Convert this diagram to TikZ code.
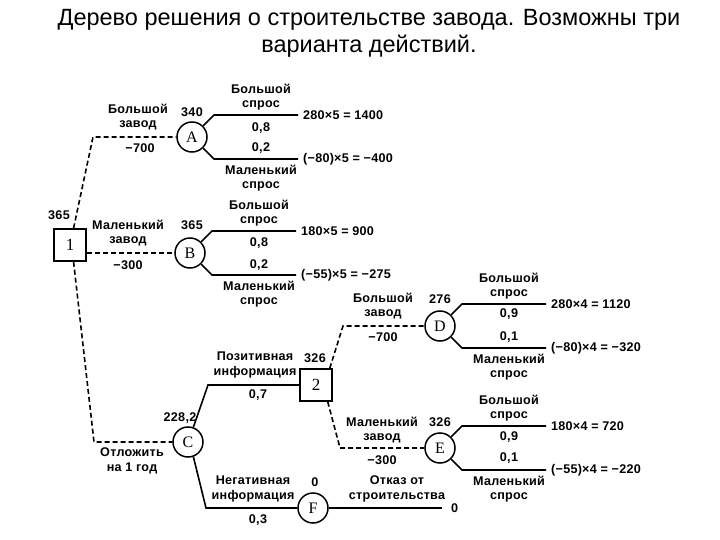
\documentclass[tikz,border=0pt]{standalone}
\usepackage{fontspec}
\setmainfont{Liberation Sans}
\newfontfamily\lblfam{Liberation Sans}[LetterSpace=2]
\newfontfamily\titlefam{Liberation Sans}
\newfontfamily\serfam{Liberation Serif}
\usetikzlibrary{calc}
\tikzset{
  chance/.style={circle, draw, line width=1.5pt, minimum size=30pt, inner sep=0pt, font=\serfam\fontsize{16}{16}\selectfont},
  decision/.style={rectangle, draw, line width=1.5pt, minimum size=32pt, inner sep=0pt, font=\serfam\fontsize{17}{17}\selectfont},
  lbl/.style={font=\lblfam\bfseries\fontsize{12.6}{14.5}\selectfont, align=center, inner sep=0pt},
  pay/.style={font=\lblfam\bfseries\fontsize{12.6}{14.5}\selectfont, anchor=west, inner sep=0pt},
  dashline/.style={line width=1.6pt, dash pattern=on 5pt off 3pt},
  solidline/.style={line width=1.6pt},
  titlef/.style={font=\titlefam\fontsize{23.5}{27}\selectfont, align=center, inner sep=0pt}
}
\begin{document}
\begin{tikzpicture}[x=1pt,y=-1pt]
\useasboundingbox (0,0) rectangle (720,540);
\fill[white] (0,0) rectangle (720,540);

% title
\node[titlef] (title) at (369,33) {Дерево решения о строительстве завода. Возможны три\\варианта действий.};

% nodes
\node[decision] (n1) at (70,245) {1};
\node[chance] (A) at (192,137) {A};
\node[chance] (B) at (190,253) {B};
\node[chance] (C) at (188,442) {C};
\node[decision] (n2) at (316,385) {2};
\node[chance] (D) at (440,326) {D};
\node[chance] (E) at (440,448) {E};
\node[chance] (F) at (313,508) {F};

% bends
\coordinate (k1a) at (93,137);
\coordinate (k1c) at (94,442);
\coordinate (kc2) at (208,385);
\coordinate (kcf) at (206,508);
\coordinate (k2d) at (343,326);
\coordinate (k2e) at (340,448);
\coordinate (fend) at (442,508);

% decision edges (dashed)
\draw[dashline] (n1.78) -- (k1a) -- (A.west);
\draw[dashline] (n1.east |- B.west) -- (B.west);
\draw[dashline] (n1.-78) -- (k1c) -- (C.west);
\draw[dashline] ($(n2.north east)+(-3,0)$) -- (k2d) -- (D.west);
\draw[dashline] ($(n2.south east)+(-5,0)$) -- (k2e) -- (E.west);

% chance edges (solid)
\draw[solidline] (C.70) -- (kc2) -- (n2.west);
\draw[solidline] (C.-70) -- (kcf) -- (F.west);
\draw[solidline] (F.east) -- (fend);
\node[pay] (f0) at (451,508) {0};

% outcome branches
\foreach \X in {A,B,D,E}{
  \draw[solidline] (\X.45) -- ($(\X)+(22,-22)$) -- ($(\X)+(106,-22)$);
  \draw[solidline] (\X.-45) -- ($(\X)+(22,22)$) -- ($(\X)+(106,22)$);
  \node[lbl] (\X big) at ($(\X)+(69,-40)$) {Большой\\спрос};
  \node[lbl] (\X small) at ($(\X)+(69,41)$) {Маленький\\спрос};
}
\node[lbl] (pA1) at ($(A)+(69,-9)$) {0,8};
\node[lbl] (pA2) at ($(A)+(69,11)$) {0,2};
\node[lbl] (pB1) at ($(B)+(69,-10)$) {0,8};
\node[lbl] (pB2) at ($(B)+(69,12)$) {0,2};
\node[lbl] (pD1) at ($(D)+(69,-12)$) {0,9};
\node[lbl] (pD2) at ($(D)+(69,11)$) {0,1};
\node[lbl] (pE1) at ($(E)+(69,-11)$) {0,9};
\node[lbl] (pE2) at ($(E)+(69,10)$) {0,1};

% payoffs
\node[pay] (oA1) at ($(A)+(111,-22)$) {280×5 = 1400};
\node[pay] (oA2) at ($(A)+(111,22)$) {(−80)×5 = −400};
\node[pay] (oB1) at ($(B)+(111,-22)$) {180×5 = 900};
\node[pay] (oB2) at ($(B)+(111,22)$) {(−55)×5 = −275};
\node[pay] (oD1) at ($(D)+(111,-22)$) {280×4 = 1120};
\node[pay] (oD2) at ($(D)+(111,22)$) {(−80)×4 = −320};
\node[pay] (oE1) at ($(E)+(111,-22)$) {180×4 = 720};
\node[pay] (oE2) at ($(E)+(111,22)$) {(−55)×4 = −220};

% values
\node[lbl] (v1) at (59,215) {365};
\node[lbl] (vA) at ($(A)+(0,-25)$) {340};
\node[lbl] (vB) at ($(B)+(2,-28)$) {365};
\node[lbl] (vC) at (180,418) {228,2};
\node[lbl] (v2) at (315,358) {326};
\node[lbl] (vD) at ($(D)+(0,-27)$) {276};
\node[lbl] (vE) at ($(E)+(0,-26)$) {326};
\node[lbl] (vF) at (315,482) {0};

% decision labels
\node[lbl] (lA) at (138,117) {Большой\\завод};
\node[lbl] (cA) at (140,148) {−700};
\node[lbl] (lB) at (128,233) {Маленький\\завод};
\node[lbl] (cB) at (128,265) {−300};
\node[lbl] (lC) at (132,461) {Отложить\\на 1 год};
\node[lbl] (lD) at (383,306) {Большой\\завод};
\node[lbl] (cD) at (383,337) {−700};
\node[lbl] (lE) at (382,430) {Маленький\\завод};
\node[lbl] (cE) at (382,460) {−300};
\node[lbl] (lpos) at (255,365) {Позитивная\\информация};
\node[lbl] (ppos) at (258,395) {0,7};
\node[lbl] (lneg) at (253,489) {Негативная\\информация};
\node[lbl] (pneg) at (258,520) {0,3};
\node[lbl] (lref) at (397,489) {Отказ от\\строительства};
\end{tikzpicture}
\end{document}
